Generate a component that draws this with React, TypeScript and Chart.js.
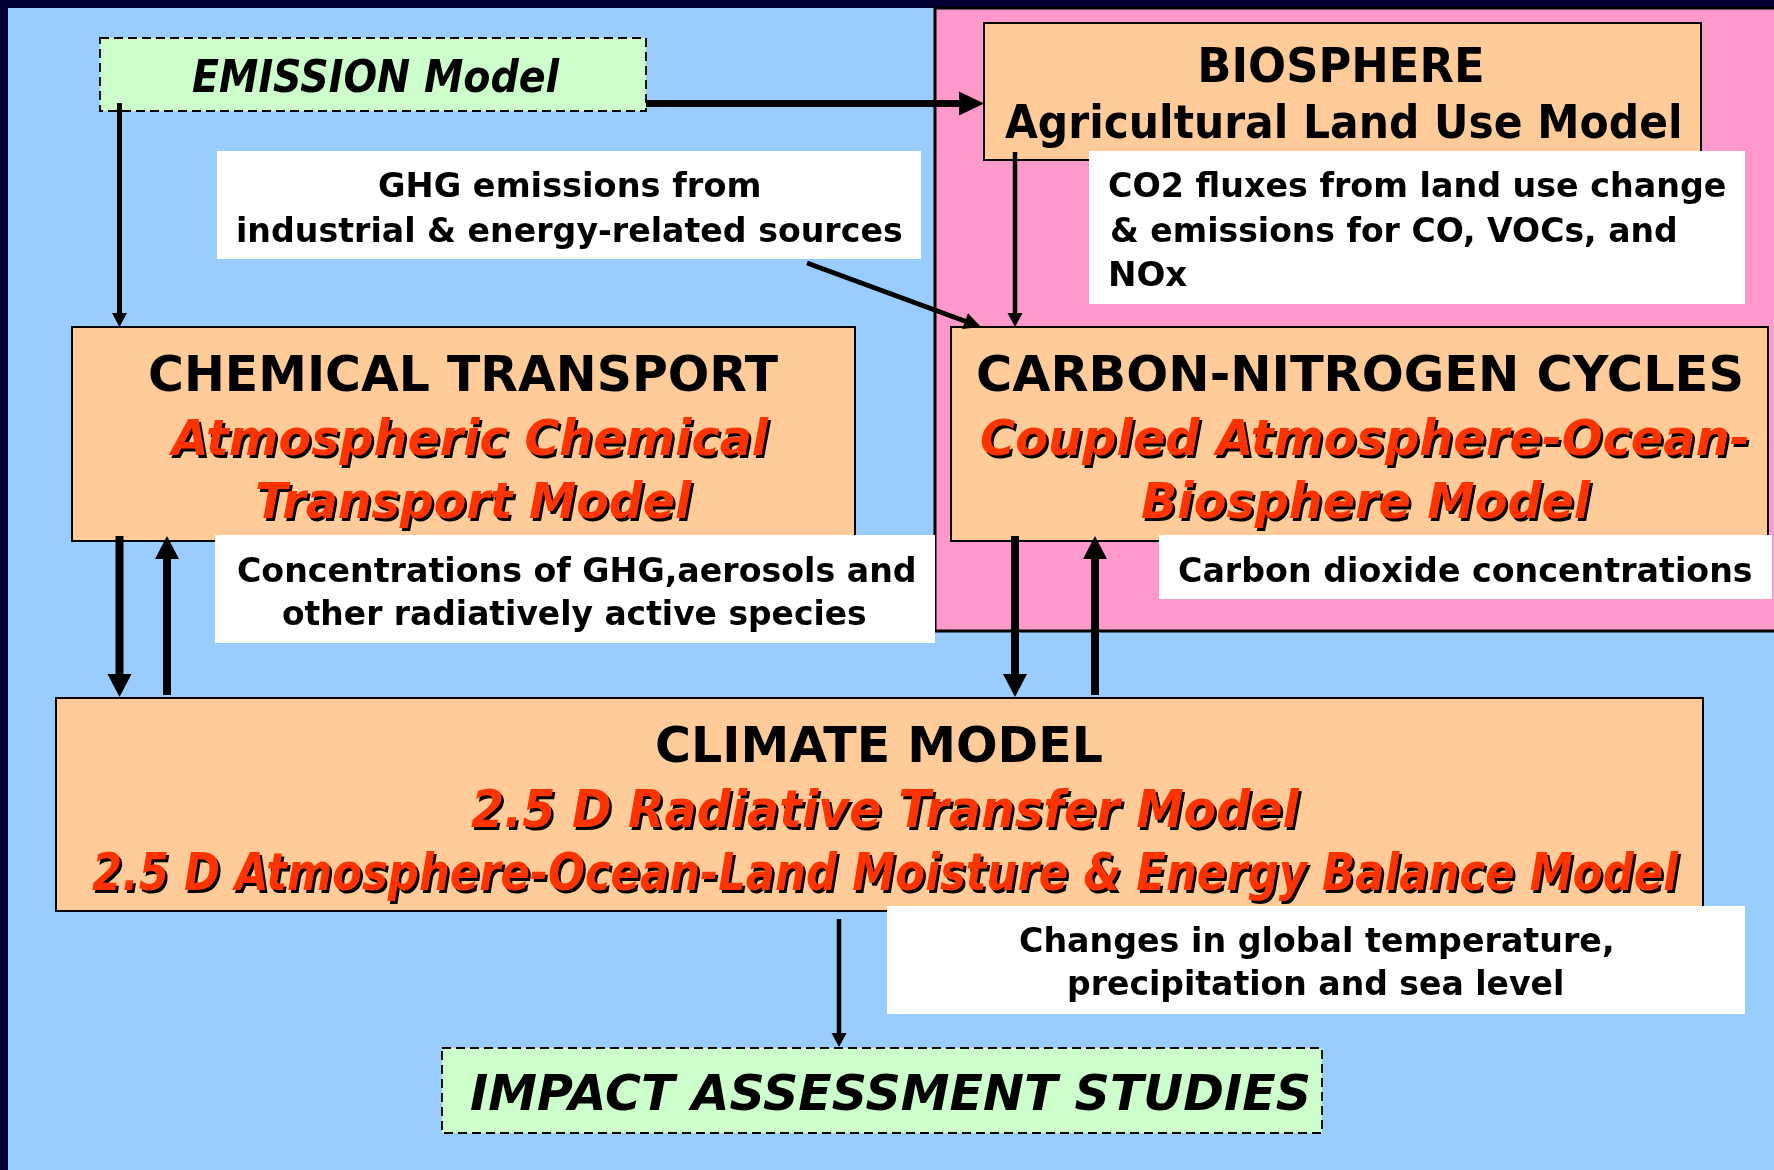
import React, { useEffect, useRef } from "react";
import { Chart, registerables } from "chart.js";

Chart.register(...registerables);

const W = 1774;
const H = 1170;

// ---------- text content ----------
const emissionLines = ["EMISSION Model"];
const biosphereLines = ["BIOSPHERE", "Agricultural Land Use Model"];
const chemicalLines = ["CHEMICAL TRANSPORT", "Atmospheric Chemical", "Transport Model"];
const carbonLines = ["CARBON-NITROGEN CYCLES", "Coupled Atmosphere-Ocean-", "Biosphere Model"];
const climateLines = [
  "CLIMATE MODEL",
  "2.5 D Radiative Transfer Model",
  "2.5 D Atmosphere-Ocean-Land Moisture & Energy Balance Model",
];
const impactLines = ["IMPACT ASSESSMENT STUDIES"];

const ghgNoteLines = ["GHG emissions from", "industrial & energy-related sources"];
const co2FluxNoteLines = ["CO2 fluxes from land use change", "& emissions for CO, VOCs, and", "NOx"];
const concNoteLines = ["Concentrations of GHG,aerosols and", "other radiatively active species"];
const co2ConcNoteLines = ["Carbon dioxide concentrations"];
const changesNoteLines = ["Changes in global temperature,", "precipitation and sea level"];

// ---------- colours ----------
const frameColor = "#000033";
const skyColor = "#99CCFF";
const pinkColor = "#FF99CC";
const boxColor = "#FFCC99";
const greenColor = "#CCFFCC";
const redColor = "#FF3300";

// ---------- layout (diagram units = pixels of the reference) ----------
type Rect = [number, number, number, number];
type Style = "b" | "bi" | "red";
type LineLayout = [number, number, number, number, Style]; // x1, x2, baseline, size, style

const pinkRegion: Rect = [935, 8, 1790, 631];

const nodes: { rect: Rect; dashed: boolean; lines: string[]; layout: LineLayout[] }[] = [
  { rect: [100, 38, 646, 111], dashed: true, lines: emissionLines, layout: [[192, 560, 92, 44, "bi"]] },
  {
    rect: [984, 23, 1701, 160], dashed: false, lines: biosphereLines,
    layout: [[1201, 1482, 82, 48, "b"], [1005, 1679, 138, 46, "b"]],
  },
  {
    rect: [72, 327, 855, 541], dashed: false, lines: chemicalLines,
    layout: [[150, 778, 391, 50, "b"], [168, 769, 455, 50, "red"], [257, 692, 518, 50, "red"]],
  },
  {
    rect: [951, 327, 1768, 541], dashed: false, lines: carbonLines,
    layout: [[978, 1741, 391, 50, "b"], [981, 1747, 455, 50, "red"], [1142, 1591, 518, 50, "red"]],
  },
  {
    rect: [56, 698, 1703, 911], dashed: false, lines: climateLines,
    layout: [[657, 1102, 762, 50, "b"], [471, 1300, 827, 52, "red"], [92, 1679, 890, 52, "red"]],
  },
  { rect: [442, 1048, 1322, 1133], dashed: true, lines: impactLines, layout: [[471, 1309, 1110, 50, "bi"]] },
];

const notes: { rect: Rect; lines: string[]; layout: LineLayout[] }[] = [
  { rect: [217, 151, 921, 259], lines: ghgNoteLines, layout: [[379, 759, 197, 33, "b"], [238, 902, 242, 33, "b"]] },
  {
    rect: [1089, 151, 1745, 304], lines: co2FluxNoteLines,
    layout: [[1109, 1725, 197, 33, "b"], [1111, 1675, 242, 33, "b"], [1111, 1187, 286, 33, "b"]],
  },
  { rect: [215, 535, 935, 643], lines: concNoteLines, layout: [[238, 914, 582, 33, "b"], [283, 866, 625, 33, "b"]] },
  { rect: [1159, 535, 1772, 599], lines: co2ConcNoteLines, layout: [[1179, 1752, 582, 33, "b"]] },
  { rect: [887, 906, 1745, 1014], lines: changesNoteLines, layout: [[1020, 1612, 952, 33, "b"], [1069, 1562, 995, 33, "b"]] },
];

// arrows: x1, y1, x2, y2, lineWidth, headLength, headHalfWidth
const arrows: [number, number, number, number, number, number, number][] = [
  [646, 103.5, 984, 103.5, 7, 25, 12],
  [119.5, 103, 119.5, 327, 5, 14, 7.5],
  [807, 263, 981, 327, 5, 17, 8.5],
  [1015, 152, 1015, 327, 4.5, 14, 7.5],
  [119.5, 536, 119.5, 697, 8, 23, 12],
  [167, 695, 167, 536, 8, 23, 12],
  [1015, 536, 1015, 697, 8, 23, 12],
  [1095, 695, 1095, 536, 8, 23, 12],
  [839, 919, 839, 1047, 4.5, 14, 7.5],
];

const diagramPlugin = {
  id: "diagram",
  beforeDatasetsDraw(chart: any) {
    const ctx: CanvasRenderingContext2D = chart.ctx;
    const xs = chart.scales.x;
    const ys = chart.scales.y;
    const px = (v: number) => xs.getPixelForValue(v);
    const py = (v: number) => ys.getPixelForValue(v);

    const fillRect = (r: Rect, color: string) => {
      ctx.fillStyle = color;
      ctx.fillRect(px(r[0]), py(r[1]), px(r[2]) - px(r[0]), py(r[3]) - py(r[1]));
    };
    const strokeRect = (r: Rect, lw: number, dash: number[] = []) => {
      ctx.save();
      ctx.strokeStyle = "#000";
      ctx.lineWidth = lw;
      ctx.setLineDash(dash);
      ctx.strokeRect(px(r[0]), py(r[1]), px(r[2]) - px(r[0]), py(r[3]) - py(r[1]));
      ctx.restore();
    };
    const drawText = (text: string, l: LineLayout) => {
      const [x1, x2, base, size, style] = l;
      const italic = style !== "b";
      ctx.save();
      ctx.font = `${italic ? "italic " : ""}bold ${size}px "DejaVu Sans", "Liberation Sans", sans-serif`;
      ctx.textAlign = "left";
      ctx.textBaseline = "alphabetic";
      const m = ctx.measureText(text);
      const vis = m.actualBoundingBoxLeft + m.actualBoundingBoxRight;
      const target = px(x2) - px(x1);
      const sx = target / vis;
      ctx.translate(px(x1) + m.actualBoundingBoxLeft * sx, py(base));
      ctx.scale(sx, 1);
      if (style === "red") {
        ctx.fillStyle = "#000";
        ctx.fillText(text, 2.5 / sx, 2.5);
        ctx.fillStyle = redColor;
      } else {
        ctx.fillStyle = "#000";
      }
      ctx.fillText(text, 0, 0);
      ctx.restore();
    };

    // background & frame
    fillRect([0, 0, W, H], skyColor);
    fillRect([0, 0, W, 8], frameColor);
    fillRect([0, 0, 8, H], frameColor);

    // pink biosphere region
    fillRect(pinkRegion, pinkColor);
    strokeRect(pinkRegion, 3);

    // model boxes
    nodes.forEach((n) => {
      fillRect(n.rect, n.dashed ? greenColor : boxColor);
      if (n.dashed) strokeRect(n.rect, 1.8, [9, 5]);
      else strokeRect(n.rect, 2);
      n.lines.forEach((t, i) => drawText(t, n.layout[i]));
    });

    // white notes
    notes.forEach((n) => {
      fillRect(n.rect, "#FFFFFF");
      n.lines.forEach((t, i) => drawText(t, n.layout[i]));
    });

    // arrows
    arrows.forEach(([x1, y1, x2, y2, lw, hl, hw]) => {
      const X1 = px(x1), Y1 = py(y1), X2 = px(x2), Y2 = py(y2);
      const dx = X2 - X1, dy = Y2 - Y1;
      const len = Math.hypot(dx, dy);
      const ux = dx / len, uy = dy / len;
      const bx = X2 - ux * hl, by = Y2 - uy * hl;
      ctx.save();
      ctx.strokeStyle = "#000";
      ctx.fillStyle = "#000";
      ctx.lineWidth = lw;
      ctx.lineCap = "butt";
      ctx.beginPath();
      ctx.moveTo(X1, Y1);
      ctx.lineTo(bx + ux * 1, by + uy * 1);
      ctx.stroke();
      ctx.beginPath();
      ctx.moveTo(X2, Y2);
      ctx.lineTo(bx - uy * hw, by + ux * hw);
      ctx.lineTo(bx + uy * hw, by - ux * hw);
      ctx.closePath();
      ctx.fill();
      ctx.restore();
    });
  },
};

export default function App() {
  const canvasRef = useRef<HTMLCanvasElement | null>(null);

  useEffect(() => {
    document.body.style.margin = "0";
    const canvas = canvasRef.current;
    if (!canvas) return;
    const anchorPoints = arrows.flatMap(([x1, y1, x2, y2]) => [
      { x: x1, y: y1 },
      { x: x2, y: y2 },
    ]);
    const chart = new Chart(canvas, {
      type: "scatter",
      data: {
        datasets: [
          {
            data: anchorPoints,
            pointRadius: 0,
            pointHoverRadius: 0,
            showLine: false,
          },
        ],
      },
      options: {
        responsive: false,
        animation: false,
        devicePixelRatio: 1,
        layout: { padding: 0 },
        events: [],
        plugins: {
          legend: { display: false },
          tooltip: { enabled: false },
          title: { display: false },
        },
        scales: {
          x: { type: "linear", min: 0, max: W, display: false },
          y: { type: "linear", min: 0, max: H, reverse: true, display: false },
        },
      },
      plugins: [diagramPlugin],
    });
    return () => chart.destroy();
  }, []);

  return (
    <div style={{ width: W, height: H }}>
      <canvas ref={canvasRef} width={W} height={H} style={{ display: "block", width: W, height: H }} />
    </div>
  );
}
